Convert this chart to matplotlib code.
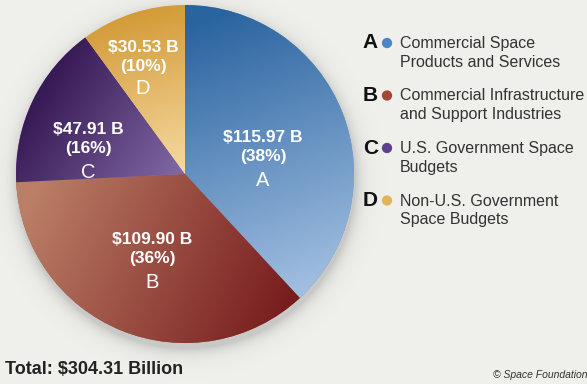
import numpy as np
import matplotlib
matplotlib.use("Agg")
import matplotlib.pyplot as plt
from matplotlib.colors import to_rgb

W, H = 587, 384
BG = "#efefec"

letters = ["A", "B", "C", "D"]
values = [115.97, 109.90, 47.91, 30.53]
categories = ["Commercial Space\nProducts and Services",
              "Commercial Infrastructure\nand Support Industries",
              "U.S. Government Space\nBudgets",
              "Non-U.S. Government\nSpace Budgets"]
dot_colors = ["#4a86c6", "#a34636", "#5e3f8e", "#e2b556"]
# linear shading per slice: (start point, start colour, end point, end colour) in pixels
shading = [((230, 10), "#2a64a0", (330, 285), "#a3c0e2"),
           ((30, 200), "#bb7e66", (290, 320), "#761a1c"),
           ((40, 95), "#381a56", (175, 180), "#8068a4"),
           ((140, 8), "#d39a36", (180, 170), "#f5d9a0")]
label_pos = [(263, 138), (152, 240), (88, 130), (143, 47)]

CX, CY, R = 185, 174, 169

plt.rcParams["font.family"] = ["Liberation Sans Narrow", "Liberation Sans", "DejaVu Sans"]

fig = plt.figure(figsize=(W / 100, H / 100), dpi=100, facecolor=BG)
ax = fig.add_axes([0, 0, 1, 1])
ax.set_facecolor(BG)


def fy(y):
    return H - y


# soft drop shadow under the pie
yy, xx = np.mgrid[0:H, 0:W]
d = np.hypot(xx - (CX + 1), yy - (CY + 5)) - R
alpha = np.exp(-np.clip(d, 0, None) / 7.0) * 0.28
shadow = np.zeros((H, W, 4))
shadow[..., :3] = 0.4
shadow[..., 3] = alpha
ax.imshow(shadow, extent=(0, W, 0, H), origin="upper", zorder=0)

total = sum(values)
wedges, _ = ax.pie(values, center=(CX, fy(CY)), radius=R, startangle=90,
                   counterclock=False, frame=True,
                   wedgeprops=dict(linewidth=0, antialiased=True))
ax.set_xlim(0, W)
ax.set_ylim(0, H)
ax.set_aspect("equal")
ax.axis("off")

for w, (p0, c0, p1, c1) in zip(wedges, shading):
    p0 = np.array(p0, float)
    p1 = np.array(p1, float)
    v = p1 - p0
    t = ((xx - p0[0]) * v[0] + (yy - p0[1]) * v[1]) / (v @ v)
    t = np.clip(t, 0, 1)[..., None]
    img = (1 - t) * np.array(to_rgb(c0)) + t * np.array(to_rgb(c1))
    w.set_facecolor(img[int(CY), int(CX)])
    im = ax.imshow(img, extent=(0, W, 0, H), origin="upper", zorder=2)
    im.set_clip_path(w)

for v, letter, (lx, ly) in zip(values, letters, label_pos):
    pct = v / total * 100
    ax.text(lx, fy(ly), f"${v:.2f} B", color="white", fontsize=12.5,
            fontweight="bold", ha="center", va="center", zorder=5)
    ax.text(lx, fy(ly + 19), f"({pct:.0f}%)", color="white", fontsize=12.5,
            fontweight="bold", ha="center", va="center", zorder=5)
    ax.text(lx, fy(ly + 42), letter, color="white", fontsize=14.5,
            ha="center", va="center", zorder=5)

# legend
for i, (letter, cat, col) in enumerate(zip(letters, categories, dot_colors)):
    y = 43 + i * 52.5
    ax.text(378, fy(y), letter, color="#111111", fontsize=15, fontweight="bold",
            ha="right", va="center", zorder=5)
    ax.scatter([387], [fy(y)], s=55, color=col, edgecolors="none", zorder=5)
    ax.text(400, fy(y - 7), cat, color="#333333", fontsize=11.5, ha="left",
            va="top", linespacing=1.3, zorder=5)

ax.text(5, fy(369), f"Total: ${total:.2f} Billion", color="#222222",
        fontsize=13, fontweight="bold", ha="left", va="center")
ax.text(493, fy(375), "© Space Foundation", color="#333333", fontsize=7.5,
        style="italic", ha="left", va="center", clip_on=True)

fig.savefig("out.png", dpi=100, facecolor=BG)
